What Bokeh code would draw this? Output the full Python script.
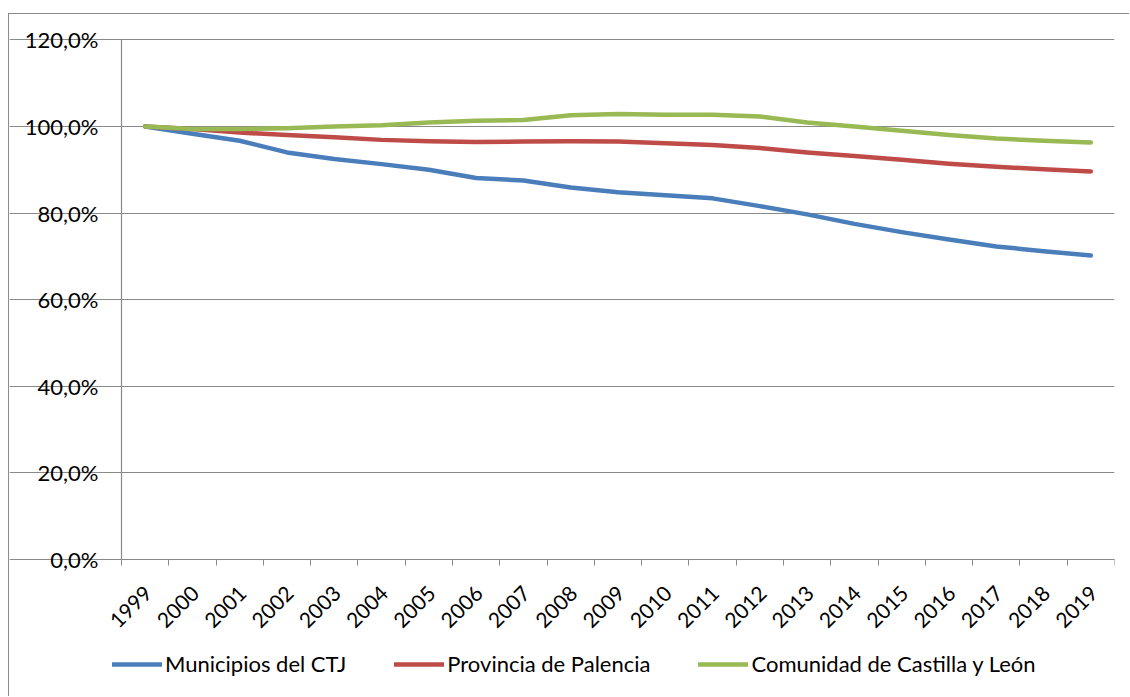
from bokeh.plotting import figure
from bokeh.models import (FixedTicker, Legend, LegendItem, Range1d,
                          ColumnDataSource, CustomJSTickFormatter)
from bokeh.embed import file_html
from bokeh.resources import INLINE

years = [str(y) for y in range(1999, 2020)]
municipios = [100.0, 98.3, 96.7, 94.0, 92.5, 91.3, 90.0, 88.1, 87.5, 85.9, 84.8,
              84.1, 83.4, 81.6, 79.7, 77.5, 75.6, 73.9, 72.3, 71.2, 70.2]
provincia = [100.0, 99.4, 98.6, 98.0, 97.5, 96.9, 96.6, 96.4, 96.5, 96.6, 96.5,
             96.1, 95.7, 95.0, 94.0, 93.2, 92.3, 91.4, 90.7, 90.1, 89.6]
comunidad = [100.0, 99.4, 99.4, 99.6, 100.0, 100.3, 100.9, 101.3, 101.5, 102.6, 102.9,
             102.7, 102.7, 102.3, 100.9, 100.0, 99.0, 98.0, 97.2, 96.7, 96.3]
series_names = ["Municipios del CTJ", "Provincia de Palencia", "Comunidad de Castilla y León"]
y_ticks = [0, 20, 40, 60, 80, 100, 120]
y_tick_labels = ["0,0%", "20,0%", "40,0%", "60,0%", "80,0%", "100,0%", "120,0%"]

colors = ["#4A7EBB", "#BE4B48", "#98B954"]
FONT = "Lato"
GRAY = "#898989"

n = len(years)
xs = [i + 0.5 for i in range(n)]
label_pos = [i + 0.56 for i in range(n)]
src = ColumnDataSource(dict(x=xs, m=municipios, p=provincia, c=comunidad))

# canvas origin sits at page (9, 14) because of the CSS margin + border
p = figure(width=1121, height=683, output_backend="svg", toolbar_location=None,
           x_range=Range1d(-2.3686, n), y_range=Range1d(-30, 124),
           min_border_left=0, min_border_right=16, min_border_top=8,
           min_border_bottom=8)
p.styles = {"margin-left": "8px", "margin-top": "13px",
            "border-left": "1px solid #8c8c8c", "border-top": "1px solid #8c8c8c"}
p.outline_line_color = None
p.background_fill_color = "white"
p.border_fill_color = "white"

renderers = []
for col, color in zip(["m", "p", "c"], colors):
    r = p.line("x", col, source=src, line_color=color, line_width=4.5,
               line_cap="round", line_join="round")
    renderers.append(r)

# x axis (fixed at value 0 so that the legend can sit inside the frame)
p.xaxis.fixed_location = 0
p.xaxis.bounds = (0, n)
p.xaxis.ticker = FixedTicker(ticks=label_pos, minor_ticks=list(range(n + 1)))
p.xaxis.formatter = CustomJSTickFormatter(args=dict(labels=years),
                                          code="return labels[Math.round(tick - 0.5)];")
p.xaxis.major_tick_line_color = None
p.xaxis.minor_tick_line_color = GRAY
p.xaxis.minor_tick_out = 6
p.xaxis.minor_tick_in = 0
p.xaxis.axis_line_color = GRAY
p.xaxis.axis_line_width = 1.2
p.xaxis.major_label_orientation = 0.785398
p.xaxis.major_label_text_font = FONT
p.xaxis.major_label_text_font_size = "21px"
p.xaxis.major_label_text_color = "black"
p.xaxis.major_label_standoff = 24
p.xgrid.visible = False

# y axis
p.yaxis.fixed_location = 0
p.yaxis.bounds = (0, 120)
p.yaxis.ticker = FixedTicker(ticks=y_ticks, minor_ticks=[])
p.yaxis.major_label_overrides = {t: l for t, l in zip(y_ticks, y_tick_labels)}
p.yaxis.major_tick_line_color = GRAY
p.yaxis.major_tick_out = 7
p.yaxis.major_tick_in = 0
p.yaxis.axis_line_color = GRAY
p.yaxis.axis_line_width = 1.2
p.yaxis.major_label_text_font = FONT
p.yaxis.major_label_text_font_size = "22px"
p.yaxis.major_label_text_color = "black"
p.yaxis.major_label_standoff = 16
p.ygrid.ticker = FixedTicker(ticks=y_ticks, minor_ticks=[])
p.ygrid.bounds = (0, n)
p.ygrid.grid_line_color = GRAY
p.ygrid.grid_line_width = 1.2

legend = Legend(items=[LegendItem(label=nm, renderers=[r]) for nm, r in zip(series_names, renderers)],
                orientation="horizontal", location=(103, 12), padding=0, margin=0,
                spacing=48, glyph_width=50, glyph_height=20, label_height=20,
                label_standoff=3, label_text_font=FONT, label_text_font_size="22px",
                label_text_color="black", border_line_color=None, background_fill_alpha=0)
p.add_layout(legend)

open("out.html", "w").write(file_html(p, INLINE))
